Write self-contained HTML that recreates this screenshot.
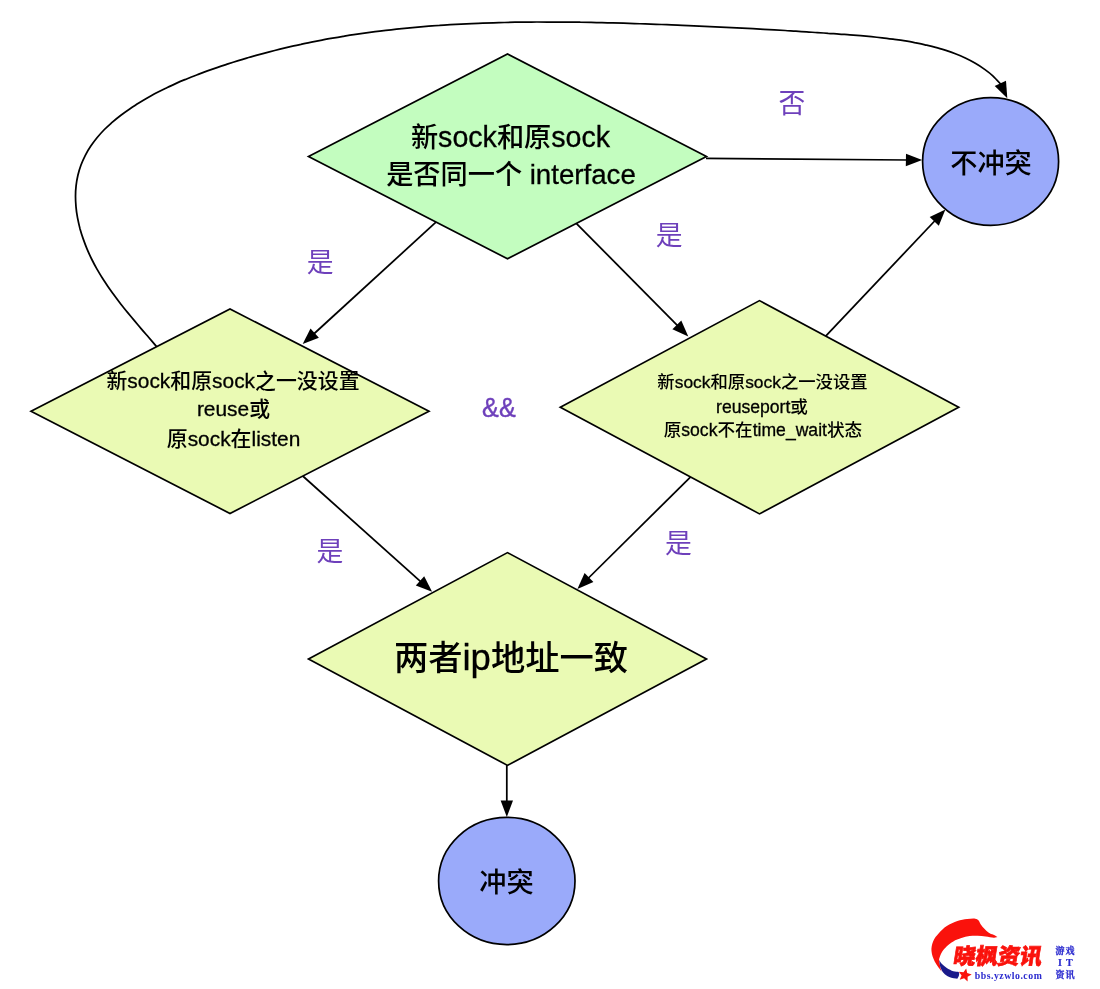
<!DOCTYPE html>
<html lang="zh-CN">
<head>
<meta charset="utf-8">
<title>sock 冲突判断流程</title>
<style>
html,body{margin:0;padding:0;background:#fff;}
body{width:1100px;height:989px;overflow:hidden;position:relative;}
svg{display:block;position:absolute;left:0;top:0;will-change:transform;}
svg text{font-family:"Liberation Sans","Noto Sans CJK SC",sans-serif;font-weight:500;}
.lbl{fill:#6e40bb;font-weight:400;}
.logo-cn{font-family:"Liberation Sans","Noto Sans CJK SC",sans-serif;font-weight:900;}
.logo-serif{font-family:"Liberation Serif","Noto Serif CJK SC",serif;font-weight:bold;}
</style>
</head>
<body>

<svg width="1100" height="989" viewBox="0 0 1100 989">
<path d="M156.8,346.9 C155.4,345.3 151.2,340.3 148.6,337.3 C146.0,334.3 143.8,331.8 141.5,329.1 C139.2,326.4 136.9,323.6 134.6,320.9 C132.3,318.1 130.0,315.4 127.7,312.6 C125.4,309.8 123.1,307.0 120.9,304.2 C118.7,301.4 116.5,298.5 114.4,295.6 C112.3,292.7 110.1,289.8 108.1,286.8 C106.1,283.8 104.1,280.8 102.2,277.8 C100.3,274.8 98.5,271.7 96.7,268.6 C94.9,265.5 93.2,262.2 91.6,259.0 C90.0,255.8 88.5,252.4 87.1,249.1 C85.7,245.8 84.4,242.3 83.2,238.9 C82.0,235.5 80.9,231.9 79.9,228.4 C79.0,224.9 78.2,221.3 77.5,217.7 C76.8,214.1 76.3,210.5 76.0,206.9 C75.7,203.3 75.5,199.8 75.5,196.2 C75.5,192.6 75.7,189.1 76.1,185.6 C76.5,182.1 77.1,178.6 77.9,175.2 C78.7,171.8 79.8,168.3 81.0,165.0 C82.2,161.7 83.7,158.5 85.3,155.3 C86.9,152.2 88.8,149.1 90.8,146.1 C92.8,143.1 94.9,140.3 97.2,137.5 C99.5,134.7 101.9,132.1 104.4,129.5 C106.9,127.0 109.7,124.6 112.4,122.2 C115.2,119.8 118.0,117.5 120.9,115.3 C123.8,113.1 126.7,111.0 129.7,109.0 C132.7,107.0 135.7,105.0 138.8,103.1 C141.9,101.2 145.0,99.3 148.1,97.5 C151.2,95.7 154.4,94.0 157.6,92.3 C160.8,90.6 164.0,89.1 167.3,87.5 C170.6,85.9 173.9,84.4 177.2,82.9 C180.5,81.4 183.8,80.1 187.2,78.7 C190.5,77.3 193.9,76.0 197.3,74.7 C200.7,73.4 204.0,72.1 207.4,70.9 C210.8,69.7 214.3,68.5 217.7,67.3 C221.1,66.1 224.6,65.0 228.0,63.9 C231.4,62.8 234.9,61.7 238.3,60.6 C241.7,59.5 245.2,58.5 248.6,57.5 C252.0,56.5 255.5,55.6 259.0,54.6 C262.5,53.6 265.9,52.7 269.4,51.8 C272.9,50.9 276.4,50.1 279.9,49.2 C283.4,48.4 286.9,47.5 290.4,46.7 C293.9,45.9 297.4,45.1 300.9,44.4 C304.4,43.6 307.9,42.9 311.4,42.2 C314.9,41.5 318.5,40.8 322.0,40.1 C325.5,39.4 329.0,38.8 332.5,38.2 C336.0,37.6 339.6,37.0 343.1,36.4 C346.7,35.8 350.2,35.2 353.8,34.7 C357.4,34.2 360.8,33.7 364.4,33.2 C367.9,32.7 371.5,32.2 375.1,31.7 C378.7,31.2 382.2,30.8 385.8,30.4 C389.4,30.0 392.9,29.6 396.5,29.2 C400.1,28.8 403.6,28.5 407.2,28.1 C410.8,27.8 414.4,27.4 418.0,27.1 C421.6,26.8 425.1,26.5 428.7,26.2 C432.3,25.9 435.9,25.6 439.5,25.4 C443.1,25.1 446.7,24.9 450.3,24.7 C453.9,24.5 457.5,24.3 461.1,24.1 C464.7,23.9 468.3,23.8 471.9,23.6 C475.5,23.4 479.1,23.2 482.7,23.1 C486.3,23.0 489.9,22.9 493.5,22.8 C497.1,22.7 500.8,22.6 504.4,22.5 C508.0,22.4 511.6,22.3 515.2,22.2 C518.8,22.1 522.4,22.1 526.0,22.1 C529.6,22.1 533.3,22.0 536.9,22.0 C540.5,22.0 544.1,22.0 547.7,22.0 C551.3,22.0 555.0,22.0 558.6,22.0 C562.2,22.0 565.8,22.1 569.4,22.1 C573.0,22.1 576.7,22.1 580.3,22.2 C583.9,22.2 587.5,22.3 591.1,22.4 C594.7,22.5 598.4,22.6 602.0,22.7 C605.6,22.8 609.2,22.8 612.8,22.9 C616.4,23.0 620.0,23.1 623.6,23.2 C627.2,23.3 630.8,23.5 634.4,23.6 C638.0,23.7 641.7,23.8 645.3,23.9 C648.9,24.0 652.5,24.2 656.1,24.3 C659.7,24.4 663.3,24.6 666.9,24.7 C670.5,24.8 674.1,25.0 677.7,25.2 C681.3,25.4 684.8,25.5 688.4,25.6 C692.0,25.8 695.6,25.9 699.2,26.1 C702.8,26.3 706.3,26.4 709.9,26.6 C713.5,26.8 717.1,26.9 720.7,27.1 C724.3,27.3 727.8,27.4 731.4,27.6 C735.0,27.8 738.6,28.0 742.2,28.2 C745.8,28.4 749.3,28.5 752.9,28.7 C756.5,28.9 760.1,29.1 763.7,29.3 C767.3,29.5 770.8,29.7 774.4,29.9 C778.0,30.1 781.6,30.3 785.2,30.5 C788.8,30.7 792.3,31.0 795.9,31.2 C799.5,31.4 803.1,31.7 806.7,31.9 C810.3,32.1 813.8,32.4 817.4,32.6 C821.0,32.8 824.6,33.0 828.2,33.3 C831.8,33.5 835.4,33.9 839.0,34.1 C842.6,34.4 846.2,34.5 849.8,34.8 C853.4,35.1 857.0,35.4 860.6,35.7 C864.2,36.0 867.8,36.4 871.4,36.7 C875.0,37.1 878.6,37.4 882.2,37.8 C885.8,38.2 889.4,38.7 893.0,39.2 C896.6,39.7 900.1,40.1 903.7,40.7 C907.3,41.3 910.9,41.9 914.4,42.6 C917.9,43.3 921.5,44.0 925.0,44.8 C928.5,45.6 932.1,46.4 935.6,47.3 C939.1,48.2 942.5,49.3 945.9,50.4 C949.3,51.5 952.7,52.7 956.0,54.0 C959.3,55.3 962.6,56.8 965.8,58.3 C969.0,59.8 972.2,61.5 975.3,63.3 C978.4,65.1 981.4,67.0 984.3,69.1 C987.2,71.2 990.0,73.2 992.8,75.8 C995.6,78.4 999.9,83.3 1001.3,84.8" fill="none" stroke="#000" stroke-width="1.75"/>
<polygon points="1007.3,98.2 994.7,86.1 1006.0,80.8" fill="#000"/>
<line x1="436.5" y1="221.7" x2="313.2" y2="334.5" stroke="#000" stroke-width="1.75"/><polygon points="302.7,344.1 310.5,328.5 318.9,337.7" fill="#000"/>
<line x1="575.3" y1="222.3" x2="678.3" y2="326.4" stroke="#000" stroke-width="1.75"/><polygon points="688.3,336.5 672.4,329.3 681.3,320.5" fill="#000"/>
<line x1="706.0" y1="158.3" x2="907.9" y2="160.0" stroke="#000" stroke-width="1.75"/><polygon points="922.2,160.1 905.8,166.2 906.0,153.7" fill="#000"/>
<line x1="825.0" y1="336.9" x2="935.6" y2="220.0" stroke="#000" stroke-width="1.75"/><polygon points="945.4,209.6 938.8,225.7 929.7,217.1" fill="#000"/>
<line x1="302.2" y1="475.5" x2="421.5" y2="582.3" stroke="#000" stroke-width="1.75"/><polygon points="432.1,591.8 415.8,585.6 424.2,576.3" fill="#000"/>
<line x1="690.9" y1="476.6" x2="587.5" y2="579.0" stroke="#000" stroke-width="1.75"/><polygon points="577.4,589.0 584.6,573.1 593.4,582.0" fill="#000"/>
<line x1="506.8" y1="762.9" x2="506.8" y2="802.6" stroke="#000" stroke-width="1.75"/><polygon points="506.8,816.9 500.6,800.6 513.0,800.6" fill="#000"/>
<polygon points="308.5,156.4 507.5,54.0 706.5,156.4 507.5,258.8" fill="#c3fdbf" stroke="#000" stroke-width="1.7" stroke-linejoin="miter"/>
<polygon points="31.0,411.2 230.0,309.0 429.0,411.2 230.0,513.5" fill="#eafab4" stroke="#000" stroke-width="1.7" stroke-linejoin="miter"/>
<polygon points="560.3,407.2 759.5,300.6 958.7,407.2 759.5,513.9" fill="#eafab4" stroke="#000" stroke-width="1.7" stroke-linejoin="miter"/>
<polygon points="308.5,659.0 507.5,552.6 706.5,659.0 507.5,765.4" fill="#eafab4" stroke="#000" stroke-width="1.7" stroke-linejoin="miter"/>
<ellipse cx="990.6" cy="161.45" rx="68.0" ry="63.85" fill="#9aaafa" stroke="#000" stroke-width="1.7"/>
<ellipse cx="506.8" cy="881.0" rx="68.2" ry="63.6" fill="#9aaafa" stroke="#000" stroke-width="1.7"/>
<text x="510.5" y="146.8" font-size="27.2" text-anchor="middle" >新<tspan font-size="28.6" stroke="#000" stroke-width="0.3">sock</tspan>和原<tspan font-size="28.6" stroke="#000" stroke-width="0.3">sock</tspan></text>
<text x="511.0" y="183.8" font-size="27.2" text-anchor="middle" >是否同一个 <tspan font-size="27.7" stroke="#000" stroke-width="0.3">interface</tspan></text>
<text x="233.0" y="387.8" font-size="20.9" text-anchor="middle" >新<tspan font-size="20.9" stroke="#000" stroke-width="0.3">sock</tspan>和原<tspan font-size="20.9" stroke="#000" stroke-width="0.3">sock</tspan>之一没设置</text>
<text x="233.5" y="416.4" font-size="20.9" text-anchor="middle" ><tspan font-size="20.9" stroke="#000" stroke-width="0.3">reuse</tspan>或</text>
<text x="233.5" y="446.2" font-size="20.9" text-anchor="middle" >原<tspan font-size="20.9" stroke="#000" stroke-width="0.3">sock</tspan>在<tspan font-size="20.9" stroke="#000" stroke-width="0.3">listen</tspan></text>
<text x="762.5" y="388.2" font-size="17.35" text-anchor="middle" >新<tspan font-size="17.4" stroke="#000" stroke-width="0.3">sock</tspan>和原<tspan font-size="17.4" stroke="#000" stroke-width="0.3">sock</tspan>之一没设置</text>
<text x="762.0" y="413.0" font-size="17.6" text-anchor="middle" ><tspan font-size="17.6" stroke="#000" stroke-width="0.3">reuseport</tspan>或</text>
<text x="762.9" y="436.2" font-size="17.6" text-anchor="middle" >原<tspan font-size="17.6" stroke="#000" stroke-width="0.3">sock</tspan>不在<tspan font-size="17.6" stroke="#000" stroke-width="0.3">time_wait</tspan>状态</text>
<text x="511.0" y="669.8" font-size="34.3" text-anchor="middle" font-weight="400">两者<tspan font-size="36.5" stroke="#000" stroke-width="0.3">ip</tspan>地址一致</text>
<text x="991.0" y="172.6" font-size="27.2" text-anchor="middle" >不冲突</text>
<text x="506.4" y="892.0" font-size="27.2" text-anchor="middle" >冲突</text>
<text x="792.0" y="112.5" font-size="26.8" text-anchor="middle" class="lbl">否</text>
<text x="320.2" y="272.3" font-size="26.8" text-anchor="middle" class="lbl">是</text>
<text x="669.1" y="244.7" font-size="26.8" text-anchor="middle" class="lbl">是</text>
<text x="498.9" y="417.3" font-size="28.1" text-anchor="middle" class="lbl" textLength="33.6" lengthAdjust="spacingAndGlyphs" stroke="#6e40bb" stroke-width="0.45"><tspan font-size="28.1">&amp;&amp;</tspan></text>
<text x="329.9" y="560.8" font-size="26.8" text-anchor="middle" class="lbl">是</text>
<text x="678.3" y="552.9" font-size="26.8" text-anchor="middle" class="lbl">是</text>
<g id="logo">
<path d="M941.6,971.7 C940.4,970.0 936.4,965.0 934.7,961.6 C933.0,958.1 931.7,954.4 931.5,951.1 C931.2,947.7 931.9,944.3 933.1,941.4 C934.3,938.4 936.5,935.8 938.8,933.3 C941.0,930.7 943.7,928.0 946.8,926.0 C949.9,924.0 954.0,922.3 957.4,921.1 C960.7,920.0 964.1,919.5 967.1,919.1 C970.0,918.7 973.3,918.5 975.2,918.7 C977.0,918.9 977.4,919.4 978.4,920.3 C979.3,921.3 979.7,922.9 980.8,924.4 C981.9,925.9 983.4,927.7 984.9,929.2 C986.3,930.7 988.1,932.3 989.7,933.3 C991.3,934.3 993.3,934.6 994.6,935.3 C995.8,935.9 996.9,936.8 997.4,937.1 C996.8,937.2 995.7,937.8 993.8,937.7 C991.8,937.6 988.4,936.8 985.7,936.5 C983.0,936.2 980.3,935.8 977.6,935.7 C974.9,935.6 972.2,935.7 969.5,936.1 C966.8,936.5 964.1,937.2 961.4,938.1 C958.7,939.0 955.7,940.0 953.3,941.4 C950.9,942.7 948.7,944.5 946.8,946.2 C945.0,948.0 943.2,950.0 942.0,951.9 C940.8,953.8 940.0,956.1 939.6,957.5 C939.1,959.0 939.0,959.2 939.2,960.8 C939.3,962.4 940.0,965.4 940.4,967.2 C940.8,969.1 941.4,970.9 941.6,971.7Z" fill="#fa120c"/>
<path d="M939.2,960.0 C939.4,961.2 939.6,965.1 940.4,967.2 C941.1,969.4 942.1,971.3 943.6,972.9 C945.1,974.5 947.0,976.0 949.3,976.9 C951.6,977.9 956.0,978.4 957.4,978.7 C957.6,978.2 958.8,976.4 959.0,975.3 C959.2,974.2 959.5,972.8 958.6,972.1 C957.6,971.4 955.3,972.0 953.3,971.3 C951.4,970.6 948.7,969.3 946.8,968.0 C945.0,966.8 943.3,965.4 942.0,964.0 C940.7,962.7 939.6,960.6 939.2,960.0Z" fill="#1a1a8a"/>
<polygon points="966.2,968.4 967.2,973.0 971.7,974.4 967.6,976.8 967.6,981.5 964.1,978.3 959.7,979.8 961.6,975.5 958.8,971.7 963.5,972.2" fill="#fa120c"/>
<text transform="translate(996.8,964.3) skewX(-9)" x="0" y="0" font-size="22" text-anchor="middle" class="logo-cn" fill="#fa120c" stroke="#fa120c" stroke-width="0.7" textLength="88.5" lengthAdjust="spacingAndGlyphs">晓枫资讯</text>
<text x="1008.3" y="978.8" font-size="9.8" text-anchor="middle" class="logo-serif" fill="#2b2bcf" textLength="67" lengthAdjust="spacing">bbs.yzwlo.com</text>
<text x="1065" y="953.5" font-size="9" text-anchor="middle" class="logo-serif" fill="#2b2bcf" stroke="#2b2bcf" stroke-width="0.3" textLength="19" lengthAdjust="spacing">游戏</text>
<text x="1065.3" y="966.3" font-size="10" text-anchor="middle" class="logo-serif" fill="#2b2bcf" stroke="#2b2bcf" stroke-width="0.2" textLength="14.5" lengthAdjust="spacing">IT</text>
<text x="1065" y="978" font-size="9" text-anchor="middle" class="logo-serif" fill="#2b2bcf" stroke="#2b2bcf" stroke-width="0.3" textLength="19" lengthAdjust="spacing">资讯</text>
</g>
</svg>
</body>
</html>
